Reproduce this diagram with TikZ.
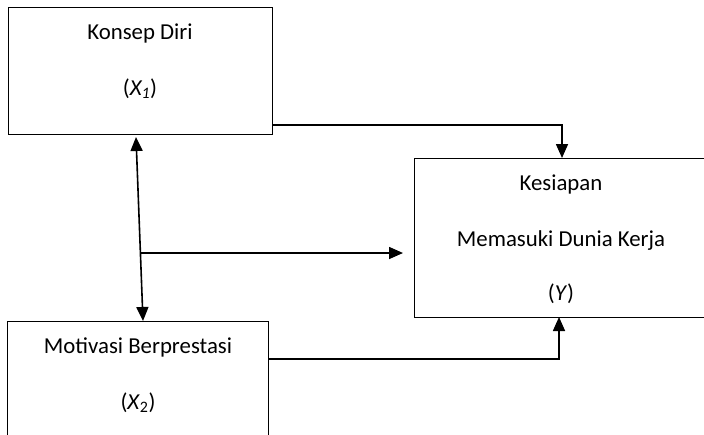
\documentclass[tikz,border=0pt]{standalone}
\usepackage{fontspec}
\setmainfont{Carlito}
\usetikzlibrary{arrows.meta}
\begin{document}
\begin{tikzpicture}[x=1pt,y=-1pt,
  box/.style={draw, line width=1.3pt, inner sep=0pt},
  lbl/.style={anchor=base, inner sep=0pt, font=\fontsize{22.8}{26}\selectfont},
  conn/.style={line width=1.6pt},
  arr/.style={conn, -{Triangle[length=14pt,width=12pt]}},
  barr/.style={conn, {Triangle[length=14pt,width=12pt]}-{Triangle[length=14pt,width=12pt]}}]
\useasboundingbox (0,0) rectangle (704,434);
\begin{scope}
\clip (0,0) rectangle (704,434);
% boxes
\node[box, minimum width=264pt, minimum height=127pt, anchor=north west] (x1) at (8,7) {};
\node[box, minimum width=261pt, minimum height=160pt, anchor=north west] (x2) at (7,321) {};
\node[box, minimum width=294pt, minimum height=159pt, anchor=north west] (y) at (414,158) {};
% labels
\node[lbl] (t1a) at (140,39) {Konsep Diri};
\node[lbl] (t1b) at (140,95) {(\textit{X\textsubscript{1}})};
\node[lbl] (t2a) at (138,353) {Motivasi Berprestasi};
\node[lbl] (t2b) at (138,409) {(\textit{X}\textsubscript{2})};
\node[lbl] (tya) at (561,190) {Kesiapan};
\node[lbl] (tyb) at (561,246) {Memasuki Dunia Kerja};
\node[lbl] (tyc) at (561,300) {(\textit{Y})};
% connector helper coordinates
\coordinate (a1) at (272,125);
\coordinate (a1t) at (562,158);
\coordinate (a2) at (268,359);
\coordinate (a2t) at (559,317);
\coordinate (bt) at (136,137);
\coordinate (bb) at (143,321);
\coordinate (hs) at (140,253);
\coordinate (ht) at (403,253);
% connectors
\draw[arr] (a1) -| (a1t);
\draw[arr] (a2) -| (a2t);
\draw[barr] (bt) -- (bb);
\draw[arr] (hs) -- (ht);
\end{scope}
\end{tikzpicture}
\end{document}
